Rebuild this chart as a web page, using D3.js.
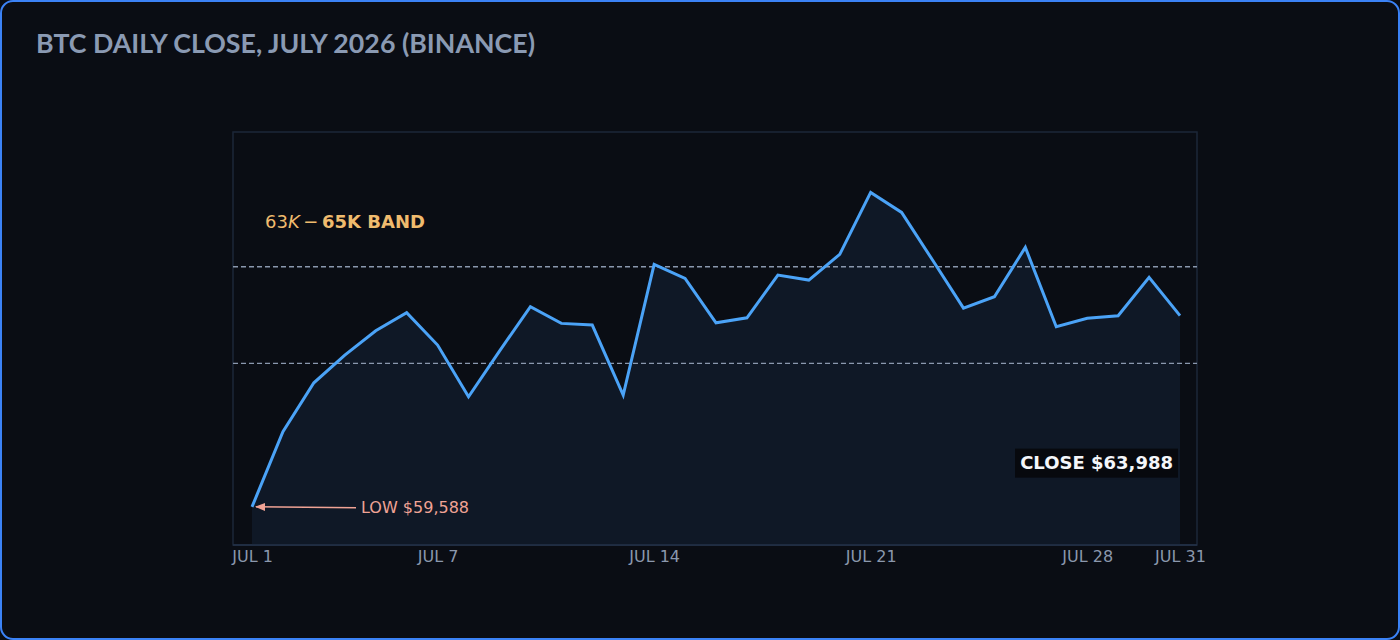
<!DOCTYPE html>
<style>

body {
  margin: 0;
  background: #0a0d14;
}

text {
  font-family: "DejaVu Sans", sans-serif;
}

</style>
<body>
<script src="https://cdn.jsdelivr.net/npm/d3@7"></script>
<script>

var width = 1400,
    height = 640;

// daily closes, July 2026
var days = d3.range(1, 32);
var closes = [
  60030, 61584, 62598, 63172, 63675, 64048, 63379, 62308, 63255, 64172,
  63828, 63793, 62344, 65050, 64760, 63841, 63944, 64828, 64725, 65257,
  66540, 66126, 65139, 64145, 64379, 65402, 63758, 63932, 63986, 64781,
  63988
];
var tickDays = [1, 7, 14, 21, 28, 31];
var tickLabels = ["JUL 1", "JUL 7", "JUL 14", "JUL 21", "JUL 28", "JUL 31"];
var band = [63000, 65000];
var lowLabel = "LOW $59,588";
var closeLabel = "CLOSE $63,988";

var frame = {left: 233, right: 1197, top: 132, bottom: 545};

var x = d3.scaleLinear()
    .domain([1, 31])
    .range([252, 1180]);

var y = d3.scaleLinear()
    .domain([59240, 67790])
    .range([frame.bottom, frame.top]);

var svg = d3.select("body").append("svg")
    .attr("width", width)
    .attr("height", height);

// outer card
svg.append("rect")
    .attr("x", 1)
    .attr("y", 1)
    .attr("width", width - 2)
    .attr("height", height - 2)
    .attr("rx", 12)
    .attr("fill", "#0a0d14")
    .attr("stroke", "#3b82f6")
    .attr("stroke-width", 2);

svg.append("text")
    .attr("x", 36)
    .attr("y", 53)
    .attr("fill", "#8a9ab3")
    .style("font-family", "Lato, 'Noto Sans', sans-serif")
    .style("font-weight", 700)
    .style("font-size", "27px")
    .attr("textLength", 499)
    .attr("lengthAdjust", "spacingAndGlyphs")
    .text("BTC DAILY CLOSE, JULY 2026 (BINANCE)");

// plot frame
svg.append("rect")
    .attr("x", frame.left)
    .attr("y", frame.top)
    .attr("width", frame.right - frame.left)
    .attr("height", frame.bottom - frame.top)
    .attr("fill", "none")
    .attr("stroke", "#1c2738")
    .attr("stroke-width", 1.5);

var data = days.map(function(d, i) { return {day: d, value: closes[i]}; });

svg.append("path")
    .datum(data)
    .attr("fill", "#0f1826")
    .attr("d", d3.area()
        .x(function(d) { return x(d.day); })
        .y0(frame.bottom)
        .y1(function(d) { return y(d.value); }));

// band lines
svg.selectAll(".band")
    .data(band)
  .enter().append("line")
    .attr("class", "band")
    .attr("x1", frame.left)
    .attr("x2", frame.right)
    .attr("y1", function(d) { return y(d); })
    .attr("y2", function(d) { return y(d); })
    .attr("stroke", "#8a98ae")
    .attr("stroke-width", 1.4)
    .attr("stroke-dasharray", "5,3");

svg.append("line")
    .attr("x1", frame.left)
    .attr("x2", frame.right)
    .attr("y1", frame.bottom)
    .attr("y2", frame.bottom)
    .attr("stroke", "#25324a")
    .attr("stroke-width", 1.5);

svg.append("path")
    .datum(data)
    .attr("fill", "none")
    .attr("stroke", "#4ba3f7")
    .attr("stroke-width", 3)
    .attr("stroke-linejoin", "miter")
    .attr("d", d3.line()
        .x(function(d) { return x(d.day); })
        .y(function(d) { return y(d.value); }));

// band label (mathtext-ish look)
var bandText = svg.append("text")
    .attr("x", 265)
    .attr("y", 228)
    .attr("fill", "#f0bb6e")
    .style("font-size", "18px");
bandText.append("tspan").text("63");
bandText.append("tspan").style("font-style", "italic").text("K");
bandText.append("tspan").text("\u2009\u2212\u2009");
bandText.append("tspan").style("font-weight", "bold").text("65K BAND");

// low annotation
var first = data[0];
svg.append("defs").append("marker")
    .attr("id", "arrow")
    .attr("viewBox", "0 0 10 10")
    .attr("refX", 9)
    .attr("refY", 5)
    .attr("markerWidth", 7)
    .attr("markerHeight", 7)
    .attr("orient", "auto")
  .append("path")
    .attr("d", "M0,1L10,5L0,9z")
    .attr("fill", "#f0a395");

svg.append("line")
    .attr("x1", x(first.day) + 104)
    .attr("y1", y(first.value) + 1)
    .attr("x2", x(first.day) + 4)
    .attr("y2", y(first.value))
    .attr("stroke", "#f0a395")
    .attr("stroke-width", 1.5)
    .attr("marker-end", "url(#arrow)");

svg.append("text")
    .attr("x", x(first.day) + 109)
    .attr("y", y(first.value) + 6)
    .attr("fill", "#f0a395")
    .style("font-size", "16px")
    .text(lowLabel);

// close label
var last = data[data.length - 1];
var closeG = svg.append("g")
    .attr("transform", "translate(" + (x(last.day) - 2) + "," + (y(last.value) + 147) + ")");

closeG.append("rect")
    .attr("x", -163)
    .attr("y", -14)
    .attr("width", 163)
    .attr("height", 29)
    .attr("fill", "#07090e");

closeG.append("text")
    .attr("x", -5)
    .attr("y", 6)
    .attr("text-anchor", "end")
    .attr("fill", "#f4f6fa")
    .style("font-size", "18px")
    .style("font-weight", "bold")
    .text(closeLabel);

// x axis labels
var xAxis = d3.axisBottom(x)
    .tickValues(tickDays)
    .tickFormat(function(d, i) { return tickLabels[i]; })
    .tickSize(0)
    .tickPadding(6);

svg.append("g")
    .attr("transform", "translate(0," + frame.bottom + ")")
    .call(xAxis)
    .call(function(g) { g.select(".domain").remove(); })
    .selectAll("text")
    .attr("fill", "#8b98ad")
    .style("font-family", "'DejaVu Sans', sans-serif")
    .style("font-size", "16px");

</script>
